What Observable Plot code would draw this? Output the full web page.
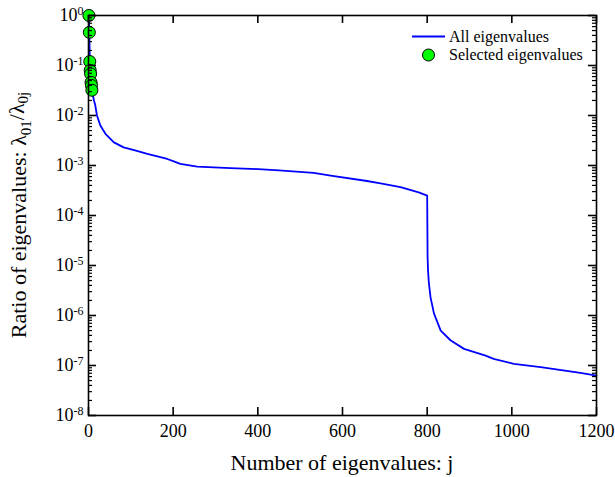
<!DOCTYPE html>
<html>
<head>
<meta charset="utf-8">
<script src="https://cdn.jsdelivr.net/npm/d3@7"></script>
<script src="https://cdn.jsdelivr.net/npm/@observablehq/plot@0.6"></script>
<style>
  html, body { margin: 0; padding: 0; background: #fff; }
  #wrap { position: relative; width: 615px; height: 477px; }
  svg { font-family: "Liberation Serif", "Times New Roman", serif; }
</style>
</head>
<body>
<div id="wrap"></div>
<script>
// ---- data ----
const allJ = [1,2,3,4,5,6,7,8,10,13,16,20,28,40,60,83,110,139,165,186,200,217,257,335,383,450,532,572,658,690,737,780,800,801,802,804,808,816,832,855,887,938,957,1005,1068,1162,1200];
const allV = [1,0.46,0.12,0.08,0.068,0.046,0.04,0.032,0.026,0.02,0.016,0.01,0.0063,0.0043,0.0029,0.0023,0.0020,0.0017,0.0015,0.00135,0.00122,0.00108,0.00095,0.00089,0.00086,0.00080,0.00071,0.00063,0.00049,0.00044,0.00037,0.00029,0.00025,1.5e-5,8e-6,4.5e-6,2.3e-6,1.1e-6,5e-7,3.2e-7,2.15e-7,1.58e-7,1.36e-7,1.08e-7,9.3e-8,7.1e-8,6.3e-8];
const selJ = [1,2,3,4,5,6,7,8];
const selV = [1,0.46,0.12,0.08,0.068,0.046,0.04,0.032];
const xTicks = [0,200,400,600,800,1000,1200];
const yMajor = [1,1e-1,1e-2,1e-3,1e-4,1e-5,1e-6,1e-7,1e-8];
const yMinor = [];
for (let e = -8; e < 0; e++) for (let m = 2; m <= 9; m++) yMinor.push(+(m * Math.pow(10, e)).toPrecision(3));
const xLabel = "Number of eigenvalues: j";
const legendItems = ["All eigenvalues", "Selected eigenvalues"];

const lineData = allJ.map((j, i) => ({j, v: allV[i]}));
const selData = selJ.map((j, i) => ({j, v: selV[i]}));

const W = 615, H = 477, mL = 88, mR = 19, mT = 15, mB = 62;
const pw = W - mL - mR, ph = H - mT - mB;
const majLen = 8, minLen = 4;

const chart = Plot.plot({
  width: W,
  height: H,
  marginLeft: mL,
  marginRight: mR,
  marginTop: mT,
  marginBottom: mB,
  style: {fontFamily: "Liberation Serif, serif", fontSize: "18px", color: "black", background: "white"},
  x: {domain: [0, 1200]},
  y: {type: "log", domain: [1e-8, 1]},
  marks: [
    Plot.line(lineData, {x: "j", y: "v", stroke: "#0000ff", strokeWidth: 1.8}),
    Plot.dot(selData, {x: "j", y: "v", r: 6, fill: "#00ff00", stroke: "black", strokeWidth: 1}),
    Plot.axisX({anchor: "bottom", ticks: xTicks, tickSize: 0, tickPadding: 9, fontSize: 18, label: null, tickFormat: d => String(d)}),
    Plot.axisY({anchor: "left", ticks: yMajor, tickSize: 0, tickPadding: 5, fontSize: 18, label: null,
      tickFormat: d => "10^" + Math.round(Math.log10(d))}),
    // inward ticks as short rules (insets trim the full-width rule to a stub)
    Plot.ruleY(yMajor, {y: d => d, insetRight: pw - majLen, stroke: "black", strokeWidth: 1.6}),
    Plot.ruleY(yMajor, {y: d => d, insetLeft: pw - majLen, stroke: "black", strokeWidth: 1.6}),
    Plot.ruleY(yMinor, {y: d => d, insetRight: pw - minLen, stroke: "black", strokeWidth: 1.2}),
    Plot.ruleY(yMinor, {y: d => d, insetLeft: pw - minLen, stroke: "black", strokeWidth: 1.2}),
    Plot.ruleX(xTicks, {x: d => d, insetTop: ph - majLen, stroke: "black", strokeWidth: 1.6}),
    Plot.ruleX(xTicks, {x: d => d, insetBottom: ph - majLen, stroke: "black", strokeWidth: 1.6}),
    Plot.frame({stroke: "black", strokeWidth: 1.6})
  ]
});

document.getElementById("wrap").appendChild(chart);
const svg = d3.select(chart);
const sx = chart.scale("x"), sy = chart.scale("y");
const xa = sx.apply(0), xb = sx.apply(1200), ya = sy.apply(1e-8), yb = sy.apply(1);

// superscripts on the y tick labels
svg.selectAll("text").each(function () {
  const t = d3.select(this);
  const s = this.textContent;
  if (/^10\^-?\d+$/.test(s)) {
    const exp = s.split("^")[1];
    t.text("10");
    t.append("tspan").attr("dy", "-0.55em").attr("font-size", "12px").text(exp);
  }
});

// axis titles
svg.append("text")
  .attr("x", (xa + xb) / 2).attr("y", 470)
  .attr("text-anchor", "middle").attr("font-size", 22).attr("fill", "black")
  .text(xLabel);

const yl = svg.append("text")
  .attr("transform", "translate(26," + (ya + yb) / 2 + ") rotate(-90)")
  .attr("text-anchor", "middle").attr("font-size", 22).attr("fill", "black");
yl.append("tspan").text("Ratio of eigenvalues: \u03bb");
yl.append("tspan").attr("dy", "0.3em").attr("font-size", 15).text("01");
yl.append("tspan").attr("dy", "-0.3em").text("/\u03bb");
yl.append("tspan").attr("dy", "0.3em").attr("font-size", 15).text("0j");

// legend
const lg = svg.append("g").attr("font-size", 16).attr("fill", "black").attr("text-anchor", "start");
lg.append("line").attr("x1", 412).attr("x2", 445).attr("y1", 36.5).attr("y2", 36.5)
  .attr("stroke", "#0000ff").attr("stroke-width", 1.8);
lg.append("text").attr("x", 449).attr("y", 36.5).attr("dy", "0.32em").attr("text-anchor", "start").text(legendItems[0]);
lg.append("circle").attr("cx", 428.5).attr("cy", 55).attr("r", 6)
  .attr("fill", "#00ff00").attr("stroke", "black");
lg.append("text").attr("x", 449).attr("y", 55).attr("dy", "0.32em").attr("text-anchor", "start").text(legendItems[1]);
</script>
</body>
</html>
